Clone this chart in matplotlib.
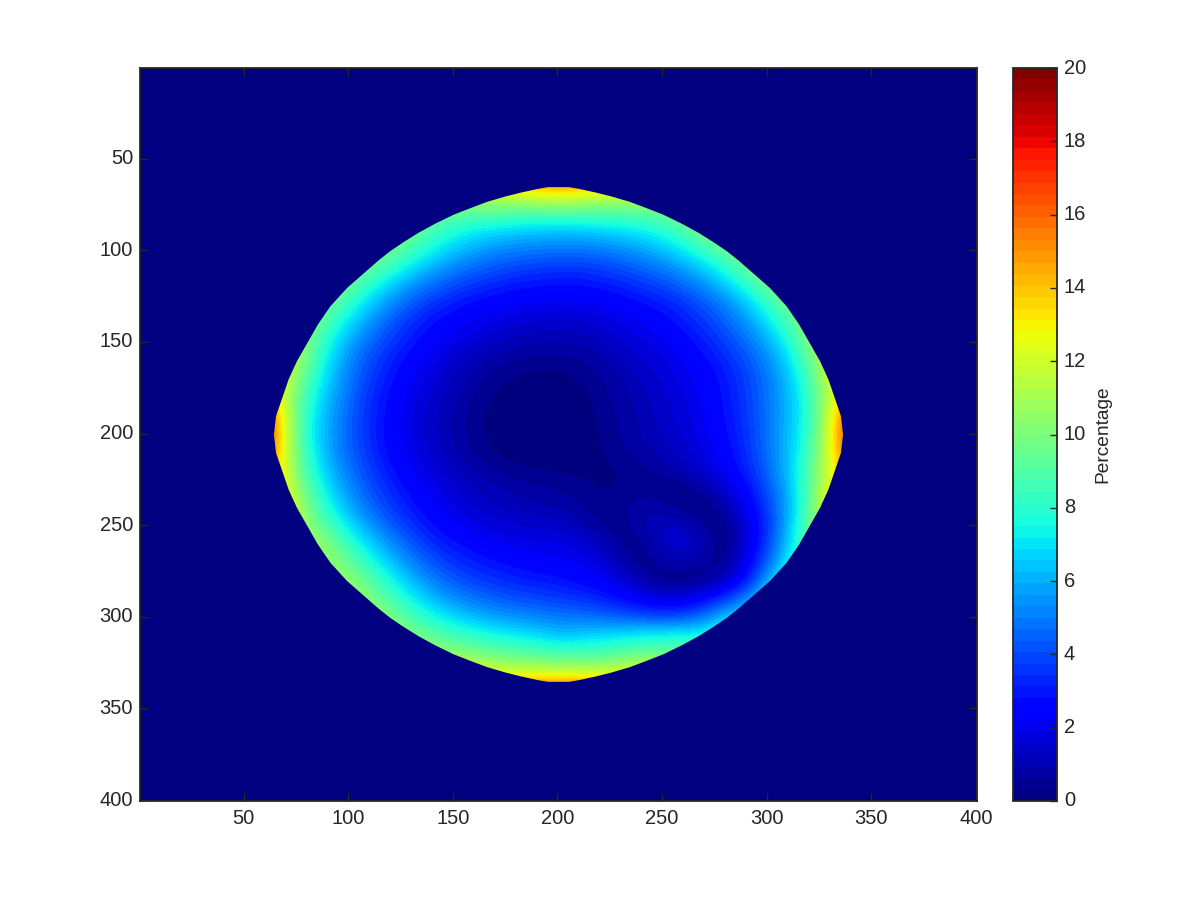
import numpy as np
import matplotlib
matplotlib.use("Agg")
import matplotlib.pyplot as plt
from matplotlib.patches import Polygon

plt.rcParams['font.family'] = ['Liberation Sans', 'DejaVu Sans']

x_nodes = [60, 70, 80, 90, 100, 110, 120, 130, 140, 150, 160, 170, 180, 190, 200,
           210, 220, 230, 240, 250, 260, 270, 280, 290, 300, 310, 320, 330, 340]
y_nodes = [60, 70, 80, 90, 100, 110, 120, 130, 140, 150, 160, 170, 180, 190, 200,
           210, 220, 230, 240, 250, 260, 270, 280, 290, 300, 310, 320, 330, 340]
percent = [
    [13, 13, 13, 13, 13, 13, 13, 13, 13, 13, 14, 15, 15.5, 16.5, 17, 16.5, 15.5, 15, 14, 13, 13, 13, 13, 13, 13, 13, 13, 13, 13],
    [13, 13, 13, 13, 13, 13, 13, 13, 12, 11.5, 11.5, 12, 12, 12.5, 12.7, 12.5, 12, 12, 11.5, 11.5, 11.5, 13, 13, 13, 13, 13, 13, 13, 13],
    [13, 13, 13, 13, 13, 13, 13, 11, 10, 9.5, 9.2, 9.2, 9, 9, 9, 9, 9, 9, 9.2, 9.5, 10, 11, 13, 13, 13, 13, 13, 13, 13],
    [13, 13, 13, 13, 13, 11, 10.5, 9.8, 8.6, 7.8, 7.2, 6.9, 6.6, 6.4, 6.4, 6.4, 6.6, 6.9, 7.2, 7.8, 8.8, 10, 10.5, 11, 13, 13, 13, 13, 13],
    [13, 13, 13, 12, 11, 10, 9.8, 8.6, 7.5, 6.6, 5.9, 5.4, 5.1, 5, 4.9, 4.9, 5, 5.3, 5.8, 6.4, 7.2, 8.4, 9.6, 10, 11, 13, 13, 13, 13],
    [13, 13, 12, 11, 10, 9.6, 8.3, 7.1, 6, 5.2, 4.6, 4.2, 3.9, 3.7, 3.6, 3.6, 3.8, 4.1, 4.5, 5, 5.7, 6.6, 7.9, 9.4, 10.5, 11, 13, 13, 13],
    [13, 13, 11, 10.5, 9.6, 7.9, 6.6, 5.4, 4.6, 4, 3.5, 3.2, 2.9, 2.8, 2.7, 2.7, 2.9, 3.1, 3.5, 3.9, 4.5, 5.3, 6.4, 7.8, 9.5, 10.5, 11, 13, 13],
    [13, 12, 10.5, 9.6, 8.2, 6.6, 5.3, 4.3, 3.5, 3, 2.6, 2.4, 2.2, 2.1, 2, 2.1, 2.2, 2.4, 2.7, 3, 3.5, 4.2, 5.1, 6.3, 8, 9.6, 10.5, 12, 13],
    [13, 12, 10.5, 8.8, 7, 5.5, 4.3, 3.4, 2.8, 2.4, 2.1, 1.8, 1.6, 1.5, 1.4, 1.5, 1.6, 1.9, 2.2, 2.5, 3, 3.6, 4.4, 5.4, 6.9, 8.6, 10.5, 12, 13],
    [13, 12, 10, 7.8, 6, 4.7, 3.7, 3, 2.4, 2, 1.6, 1.3, 1.1, 1, .9, 1, 1.2, 1.5, 1.8, 2.1, 2.5, 3.1, 3.8, 4.7, 5.9, 7.6, 10, 12, 13],
    [14, 12, 9.8, 7.2, 5.4, 4.1, 3.2, 2.5, 2, 1.5, 1.1, .8, .6, .5, .5, .6, .8, 1.2, 1.5, 1.8, 2.2, 2.7, 3.3, 4.1, 5.2, 6.8, 9.2, 12, 14],
    [14, 12, 9, 6.7, 5, 3.8, 2.9, 2.3, 1.7, 1.2, .8, .45, .25, .15, .15, .3, .6, .9, 1.3, 1.6, 2, 2.4, 3, 3.8, 4.9, 6.3, 8.5, 12, 14],
    [15, 11.5, 8.4, 6.3, 4.8, 3.5, 2.7, 2, 1.5, 1, .6, .25, .05, .05, .05, .15, .45, .8, 1.1, 1.5, 1.8, 2.3, 2.9, 3.7, 4.8, 6.1, 8.1, 11.5, 15],
    [17, 12, 8, 6, 4.6, 3.4, 2.6, 1.9, 1.4, .9, .5, .15, 0, 0, 0, .1, .35, .7, 1, 1.4, 1.7, 2.2, 2.8, 3.6, 4.8, 6.1, 8, 11.8, 17],
    [18, 12, 7.9, 5.9, 4.5, 3.4, 2.5, 1.9, 1.3, .85, .45, .1, 0, 0, 0, .05, .3, .65, .95, 1.3, 1.6, 2.1, 2.7, 3.5, 4.8, 6.2, 8.1, 12, 18],
    [17, 12.2, 8.1, 6, 4.6, 3.5, 2.6, 2, 1.5, 1, .6, .25, .1, .05, .05, .05, .25, .55, .8, 1.1, 1.4, 1.9, 2.5, 3.4, 4.7, 6.2, 8.4, 12.2, 17],
    [15.5, 12, 8.6, 6.4, 4.9, 3.8, 2.9, 2.2, 1.7, 1.3, .9, .6, .4, .3, .25, .25, .2, .3, .5, .8, 1.1, 1.6, 2.2, 3.2, 4.5, 6.3, 8.8, 12.3, 15],
    [15.5, 12.5, 9.3, 7, 5.4, 4.2, 3.3, 2.6, 2, 1.6, 1.2, 1, .8, .7, .55, .45, .25, .35, .45, .3, .25, .8, 1.6, 2.6, 4.1, 6, 9, 12.5, 15],
    [15.5, 13, 10, 7.8, 6, 4.7, 3.7, 3, 2.3, 1.9, 1.5, 1.3, 1.1, 1, .9, .7, .3, .6, .85, .75, .3, .15, .9, 2.1, 3.7, 5.8, 8.9, 13, 15],
    [15, 13, 10.5, 8.9, 7, 5.6, 4.4, 3.5, 2.8, 2.3, 1.9, 1.7, 1.6, 1.4, 1.4, 1.1, .6, .3, .95, 1.3, 1.3, .6, .2, 1.6, 3.4, 6, 9.5, 11, 13],
    [15, 13, 11, 10.2, 8.3, 6.7, 5.4, 4.3, 3.4, 2.9, 2.5, 2.2, 2, 1.9, 1.9, 1.7, 1.2, .5, .5, 1.3, 1.6, 1.1, .2, 1.6, 3.6, 6.5, 9.5, 11, 13],
    [15, 13, 11, 10.5, 9.5, 7.9, 6.4, 5.2, 4.2, 3.5, 3.1, 2.8, 2.6, 2.4, 2.3, 2.1, 1.8, 1, .2, .8, 1.1, .7, .3, 2, 4.2, 7.3, 9, 11, 13],
    [13, 13, 13, 11, 10.5, 9.2, 7.6, 6.2, 5.1, 4.3, 3.8, 3.5, 3.2, 3, 2.9, 2.6, 2.3, 1.7, .9, .3, .1, .3, 1.2, 2.8, 5.5, 8.5, 10, 13, 13],
    [13, 13, 13, 13, 11, 10, 8.8, 7.4, 6.2, 5.4, 4.8, 4.4, 4.1, 3.9, 3.7, 3.5, 3.2, 2.7, 2.2, 1.8, 1.8, 2.5, 3.6, 5, 7.5, 10, 13, 13, 13],
    [13, 13, 13, 13, 13, 11, 10, 8.7, 7.6, 6.8, 6.2, 5.7, 5.4, 5.2, 4.9, 4.8, 4.6, 4.3, 4, 3.8, 4, 4.8, 6.3, 7, 9, 13, 13, 13, 13],
    [13, 13, 13, 13, 13, 13, 11, 10, 9.2, 8.5, 8, 7.5, 7.2, 6.8, 6.3, 6.5, 6.8, 7, 7.3, 7.5, 7.6, 7.5, 8.5, 13, 13, 13, 13, 13, 13],
    [13, 13, 13, 13, 13, 13, 13, 11.5, 10.8, 10.3, 9.9, 9.5, 9.2, 9, 8.7, 8.6, 8.7, 9, 9.4, 9.3, 9.5, 9.5, 13, 13, 13, 13, 13, 13, 13],
    [15, 15, 15, 15, 15, 15, 15, 15, 14, 13, 12.5, 12, 11.7, 11.5, 11.5, 11.5, 11.5, 12, 12.5, 13, 13, 15, 15, 15, 15, 15, 15, 15, 15],
    [15, 15, 15, 15, 15, 15, 15, 15, 15, 15, 15, 15, 16, 17, 17, 17, 16, 15, 15, 15, 15, 15, 15, 15, 15, 15, 15, 15, 15],
]

# Outline of the non-zero region: half width at each distance from the centre row
outline_center = [200.5, 200.5]
outline_offset = [135, 134, 132, 130, 127, 124, 120, 115, 110, 105, 100, 95, 90, 85, 80, 70, 60, 50, 40, 30, 20, 10, 0]
outline_halfwidth = [5, 10, 18, 25, 34, 41, 50, 59, 67, 74, 80.5, 86, 91, 96, 101, 109, 115, 120, 125, 129, 132, 135, 136]

xticks = [50, 100, 150, 200, 250, 300, 350, 400]
yticks = [50, 100, 150, 200, 250, 300, 350, 400]
cticks = [0, 2, 4, 6, 8, 10, 12, 14, 16, 18, 20]
cbar_label = "Percentage"

ink = '#262626'
cmap = plt.get_cmap('jet', 64)

fig = plt.figure(figsize=(12, 9), dpi=100)
ax = fig.add_axes([140 / 1200, 99 / 900, 837 / 1200, 733 / 900])
ax.set_facecolor(cmap(0))

dx = (x_nodes[1] - x_nodes[0]) / 2
dy = (y_nodes[1] - y_nodes[0]) / 2
im = ax.imshow(np.array(percent, dtype=float), cmap=cmap, vmin=0, vmax=20, aspect='auto',
               interpolation='bicubic', interpolation_stage='data',
               extent=[x_nodes[0] - dx, x_nodes[-1] + dx, y_nodes[-1] + dy, y_nodes[0] - dy])

off = np.array(outline_offset, dtype=float)
hw = np.array(outline_halfwidth, dtype=float)
cx, cy = outline_center
px = np.concatenate([cx + hw, (cx + hw)[::-1], (cx - hw), (cx - hw)[::-1]])
py = np.concatenate([cy - off, (cy + off)[::-1], (cy + off), (cy - off)[::-1]])
clip = Polygon(np.column_stack([px, py]), closed=True, transform=ax.transData,
               facecolor='none', edgecolor='none')
ax.add_patch(clip)
im.set_clip_path(clip)

ax.set_xlim(0.5, 400.5)
ax.set_ylim(400.5, 0.5)
ax.set_xticks(xticks)
ax.set_yticks(yticks)
ax.tick_params(direction='in', top=True, right=True, length=5.8, width=1.0, color=ink,
               labelcolor=ink, labelsize=14.5, pad=5)
ax.tick_params(axis='x', pad=5.5)
for lab in ax.get_yticklabels():
    lab.set_verticalalignment('center')
for s in ax.spines.values():
    s.set_linewidth(1.3)
    s.set_color(ink)

cax = fig.add_axes([1013 / 1200, 99 / 900, 44 / 1200, 733 / 900])
cb = fig.colorbar(im, cax=cax)
cb.set_ticks(cticks)
cb.ax.tick_params(direction='in', length=5, width=1.0, color=ink, labelcolor=ink,
                  labelsize=14.5, pad=5)
for lab in cb.ax.get_yticklabels():
    lab.set_verticalalignment('center')
cb.outline.set_linewidth(1.3)
cb.outline.set_edgecolor(ink)
cb.set_label(cbar_label, fontsize=13.8, color=ink, labelpad=6)

fig.savefig('out.png', dpi=100)
